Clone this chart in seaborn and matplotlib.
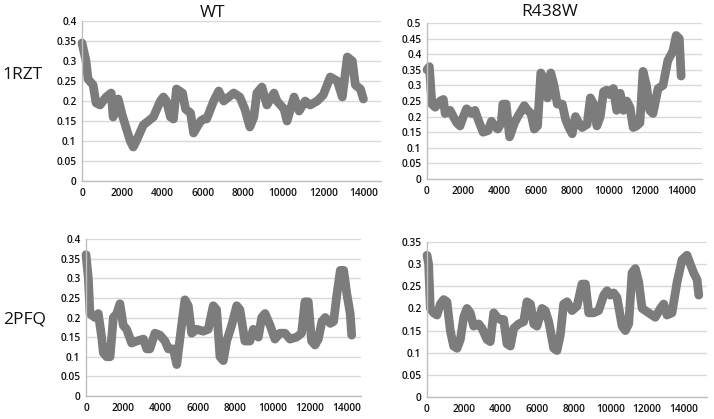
import matplotlib
matplotlib.use("Agg")
import matplotlib.pyplot as plt
import seaborn as sns
import pandas as pd

# ---------------- data ----------------
col_titles = ["WT", "R438W"]
row_titles = ["1RZT", "2PFQ"]
x_ticks = [0, 2000, 4000, 6000, 8000, 10000, 12000, 14000]

# 1RZT / WT
rzt_wt_x = [0, 200, 300, 550, 700, 900, 1200, 1450, 1550, 1800, 2000, 2400, 2550, 2700,
            3050, 3550, 3900, 4050, 4200, 4400, 4550, 4700, 5000, 5150, 5400, 5550, 5900,
            6050, 6200, 6550, 6800, 7050, 7550, 7850, 8100, 8350, 8550, 8700, 8950, 9200,
            9550, 9700, 10050, 10200, 10550, 10800, 11100, 11350, 11700, 12000, 12350,
            12700, 12950, 13200, 13450, 13600, 13850, 14000]
rzt_wt_y = [0.345, 0.30, 0.255, 0.24, 0.195, 0.19, 0.21, 0.22, 0.16, 0.205, 0.165, 0.10, 0.085, 0.10,
            0.14, 0.16, 0.20, 0.21, 0.20, 0.16, 0.155, 0.23, 0.22, 0.18, 0.17, 0.12, 0.15,
            0.155, 0.155, 0.20, 0.225, 0.20, 0.22, 0.21, 0.18, 0.135, 0.16, 0.22, 0.235, 0.19,
            0.22, 0.20, 0.18, 0.15, 0.21, 0.175, 0.20, 0.19, 0.20, 0.215, 0.26,
            0.25, 0.21, 0.31, 0.30, 0.24, 0.23, 0.205]

# 1RZT / R438W
rzt_mut_x = [0, 130, 270, 450, 730, 900, 1000, 1270, 1450, 1640, 1820, 2000, 2180, 2450, 2640,
             2820, 3090, 3360, 3550, 3730, 3900, 4090, 4180, 4360, 4550, 4820, 5000, 5360,
             5550, 5730, 5910, 6090, 6270, 6545, 6640, 6820, 7000, 7180, 7450, 7640, 7820,
             8000, 8180, 8360, 8545, 8820, 9000, 9180, 9360, 9545, 9730, 9910, 10090, 10270,
             10450, 10640, 10820, 11000, 11180, 11360, 11545, 11730, 11900, 12090, 12270,
             12450, 12730, 13000, 13270, 13545, 13730, 13900, 14000]
rzt_mut_y = [0.35, 0.36, 0.24, 0.23, 0.25, 0.255, 0.21, 0.22, 0.20, 0.18, 0.17, 0.20, 0.225, 0.21, 0.22,
             0.19, 0.15, 0.155, 0.185, 0.17, 0.16, 0.18, 0.24, 0.24, 0.135, 0.18, 0.20, 0.235,
             0.22, 0.21, 0.16, 0.17, 0.34, 0.31, 0.26, 0.34, 0.30, 0.24, 0.24, 0.19, 0.165,
             0.145, 0.20, 0.18, 0.165, 0.175, 0.26, 0.24, 0.17, 0.20, 0.28, 0.285, 0.27, 0.29,
             0.22, 0.275, 0.22, 0.25, 0.23, 0.165, 0.17, 0.18, 0.345, 0.30, 0.22,
             0.21, 0.29, 0.30, 0.38, 0.41, 0.46, 0.45, 0.33]

# 2PFQ / WT
pfq_wt_x = [0, 125, 215, 480, 660, 840, 930, 1110, 1290, 1470, 1650, 1820, 2000, 2180, 2450,
            2720, 3080, 3260, 3430, 3700, 3970, 4240, 4420, 4690, 4870, 5130, 5310, 5490,
            5670, 5940, 6300, 6560, 6830, 7010, 7190, 7370, 7550, 7820, 8090, 8260, 8530,
            8800, 8980, 9250, 9430, 9610, 9880, 10140, 10410, 10680, 10950, 11310, 11570,
            11750, 11930, 12110, 12290, 12470, 12660, 12840, 13110, 13290, 13470, 13650,
            13830, 14000, 14180, 14260]
pfq_wt_y = [0.36, 0.30, 0.21, 0.20, 0.21, 0.15, 0.11, 0.10, 0.10, 0.20, 0.21, 0.235, 0.18, 0.17, 0.135,
            0.14, 0.145, 0.12, 0.12, 0.16, 0.155, 0.14, 0.12, 0.12, 0.08, 0.18, 0.245, 0.23,
            0.16, 0.17, 0.165, 0.17, 0.23, 0.22, 0.10, 0.09, 0.14, 0.18, 0.23, 0.22, 0.14,
            0.14, 0.17, 0.15, 0.20, 0.21, 0.18, 0.145, 0.16, 0.16, 0.145, 0.15, 0.16,
            0.24, 0.24, 0.14, 0.13, 0.145, 0.19, 0.20, 0.185, 0.19, 0.26, 0.32,
            0.32, 0.26, 0.21, 0.155]

# 2PFQ / R438W
pfq_mut_x = [0, 90, 180, 360, 545, 730, 910, 1090, 1270, 1450, 1640, 1820, 2000, 2180, 2360,
             2545, 2820, 3000, 3270, 3450, 3640, 3820, 4000, 4180, 4360, 4545, 4730, 5000,
             5270, 5450, 5640, 5820, 6000, 6270, 6450, 6640, 6910, 7090, 7270, 7450, 7640,
             7910, 8180, 8450, 8640, 8820, 9090, 9360, 9640, 9820, 10000, 10180, 10360,
             10640, 10820, 11000, 11180, 11360, 11545, 11730, 12090, 12450, 12730, 12910,
             13090, 13360, 13640, 13910, 14180, 14360, 14545, 14730, 14820]
pfq_mut_y = [0.32, 0.30, 0.20, 0.19, 0.185, 0.21, 0.22, 0.215, 0.15, 0.115, 0.11, 0.13, 0.18, 0.20, 0.19,
             0.16, 0.165, 0.155, 0.13, 0.125, 0.19, 0.18, 0.175, 0.175, 0.12, 0.115, 0.155, 0.165,
             0.17, 0.215, 0.21, 0.165, 0.16, 0.20, 0.195, 0.17, 0.11, 0.105, 0.14, 0.21, 0.215,
             0.195, 0.205, 0.255, 0.255, 0.19, 0.19, 0.195, 0.23, 0.24, 0.23, 0.235, 0.225,
             0.16, 0.15, 0.165, 0.28, 0.29, 0.26, 0.20, 0.19, 0.18, 0.20, 0.21,
             0.185, 0.19, 0.26, 0.31, 0.32, 0.30, 0.28, 0.265, 0.23]

# ---------------- styling ----------------
sns.set_style("white")
plt.rcParams["font.family"] = ["Open Sans", "DejaVu Sans"]

LINE = "#7c7c7c"
GRID = "#d9d9d9"
AXIS = "#bfbfbf"

fig = plt.figure(figsize=(7.14, 4.19), dpi=100)

panels = [
    # (x, y, rect, ymax, ystep, xmax)
    (rzt_wt_x, rzt_wt_y, [82/714, 1-181/419, (381-82)/714, 160/419], 0.4, 0.05, 14875),
    (rzt_mut_x, rzt_mut_y, [427/714, 1-179/419, (702-427)/714, 156/419], 0.5, 0.05, 15150),
    (pfq_wt_x, pfq_wt_y, [86/714, 1-396/419, (361-86)/714, 157/419], 0.4, 0.05, 14760),
    (pfq_mut_x, pfq_mut_y, [427/714, 1-397/419, (707-427)/714, 155/419], 0.35, 0.05, 15270),
]

for xs, ys, rect, ymax, ystep, xmax in panels:
    ax = fig.add_axes(rect)
    df = pd.DataFrame({"x": xs, "y": ys})
    sns.lineplot(data=df, x="x", y="y", ax=ax, color=LINE, linewidth=6.3,
                 solid_joinstyle="round", solid_capstyle="round", clip_on=False)
    ax.set_xlim(0, xmax)
    ax.set_ylim(0, ymax)
    n = int(round(ymax / ystep))
    yt = [round(i * ystep, 2) for i in range(n + 1)]
    ax.set_yticks(yt)
    ax.set_yticklabels([("%g" % v) for v in yt])
    ax.set_xticks(x_ticks)
    ax.set_xticklabels([str(v) for v in x_ticks])
    ax.grid(axis="y", color=GRID, linewidth=1.0)
    ax.grid(axis="x", visible=False)
    ax.set_axisbelow(True)
    for s in ["top", "right"]:
        ax.spines[s].set_visible(False)
    for s in ["left", "bottom"]:
        ax.spines[s].set_color(AXIS)
        ax.spines[s].set_linewidth(1.0)
    ax.tick_params(axis="both", length=0, labelsize=7.3, colors="#111111")
    for lab in ax.get_xticklabels() + ax.get_yticklabels():
        lab.set_fontweight("semibold")
    ax.tick_params(axis="y", pad=4)
    ax.tick_params(axis="x", pad=5)
    ax.set_xlabel("")
    ax.set_ylabel("")

# column titles and row labels
fig.text(213/714, 1-13/419, col_titles[0], ha="center", va="center", fontsize=12.5, color="#111111")
fig.text(550/714, 1-12/419, col_titles[1], ha="center", va="center", fontsize=12.5, color="#111111")
fig.text(22/714, 1-75/419, row_titles[0], ha="center", va="center", fontsize=12.5, color="#111111")
fig.text(25/714, 1-320/419, row_titles[1], ha="center", va="center", fontsize=12.5, color="#111111")

fig.savefig("out.png", dpi=100, facecolor="white")
